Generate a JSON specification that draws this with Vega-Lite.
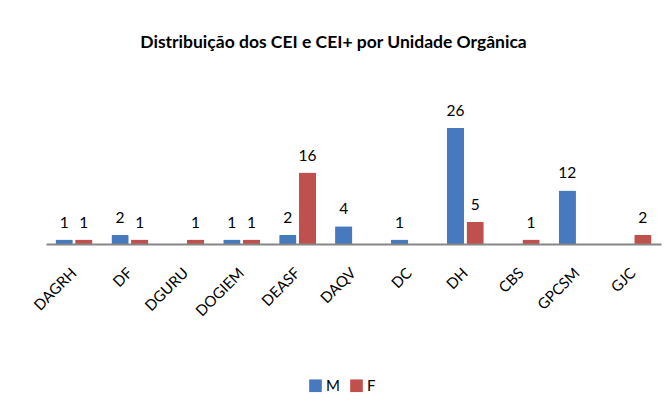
{
  "$schema": "https://vega.github.io/schema/vega-lite/v6.json",
  "width": 615,
  "height": 134,
  "autosize": {"type": "none"},
  "padding": {"left": 46, "top": 110, "right": 5, "bottom": 163},
  "background": "white",
  "title": {
    "text": "Distribuição dos CEI e CEI+ por Unidade Orgânica",
    "font": "Lato",
    "fontSize": 17.5,
    "fontWeight": "bold",
    "color": "#000000",
    "anchor": "middle",
    "baseline": "alphabetic",
    "offset": 38,
    "dx": -20
  },
  "data": {
    "values": [
      {"unidade": "DAGRH", "sexo": "M", "n": 1},
      {"unidade": "DAGRH", "sexo": "F", "n": 1},
      {"unidade": "DF", "sexo": "M", "n": 2},
      {"unidade": "DF", "sexo": "F", "n": 1},
      {"unidade": "DGURU", "sexo": "F", "n": 1},
      {"unidade": "DOGIEM", "sexo": "M", "n": 1},
      {"unidade": "DOGIEM", "sexo": "F", "n": 1},
      {"unidade": "DEASF", "sexo": "M", "n": 2},
      {"unidade": "DEASF", "sexo": "F", "n": 16},
      {"unidade": "DAQV", "sexo": "M", "n": 4},
      {"unidade": "DC", "sexo": "M", "n": 1},
      {"unidade": "DH", "sexo": "M", "n": 26},
      {"unidade": "DH", "sexo": "F", "n": 5},
      {"unidade": "CBS", "sexo": "F", "n": 1},
      {"unidade": "GPCSM", "sexo": "M", "n": 12},
      {"unidade": "GJC", "sexo": "F", "n": 2}
    ]
  },
  "encoding": {
    "x": {
      "field": "unidade",
      "type": "nominal",
      "sort": ["DAGRH", "DF", "DGURU", "DOGIEM", "DEASF", "DAQV", "DC", "DH", "CBS", "GPCSM", "GJC"],
      "scale": {"paddingInner": 0.34, "paddingOuter": 0.17},
      "axis": {
        "title": null,
        "labelAngle": -45,
        "labelAlign": "right",
        "labelBaseline": "middle",
        "labelPadding": 26,
        "labelFont": "Lato",
        "labelFontSize": 15,
        "labelColor": "#000000",
        "ticks": false,
        "domainColor": "#868686",
        "domainWidth": 2,
        "zindex": 1
      }
    },
    "xOffset": {
      "field": "sexo",
      "type": "nominal",
      "scale": {"domain": ["M", "F"], "paddingInner": 0.12, "paddingOuter": 0}
    },
    "y": {
      "field": "n",
      "type": "quantitative",
      "scale": {"domain": [0, 30], "nice": false},
      "axis": null
    }
  },
  "layer": [
    {
      "mark": {"type": "bar", "cornerRadiusTopLeft": 1, "cornerRadiusTopRight": 1},
      "encoding": {
        "color": {
          "field": "sexo",
          "type": "nominal",
          "scale": {"domain": ["M", "F"], "range": ["#4679BD", "#C0504D"]},
          "legend": {
            "title": null,
            "orient": "none",
            "direction": "horizontal",
            "legendX": 262,
            "legendY": 268,
            "symbolType": "square",
            "symbolSize": 160,
            "symbolStrokeWidth": 0,
            "labelFont": "Lato",
            "labelFontSize": 15,
            "labelColor": "#000000",
            "labelOffset": 3,
            "columnPadding": 9,
            "padding": 0
          }
        }
      }
    },
    {
      "mark": {"type": "text", "baseline": "alphabetic", "dy": -12, "font": "Lato", "fontSize": 15.5, "color": "#000000"},
      "encoding": {
        "text": {"field": "n", "type": "quantitative"}
      }
    }
  ],
  "config": {
    "view": {"stroke": null}
  }
}
